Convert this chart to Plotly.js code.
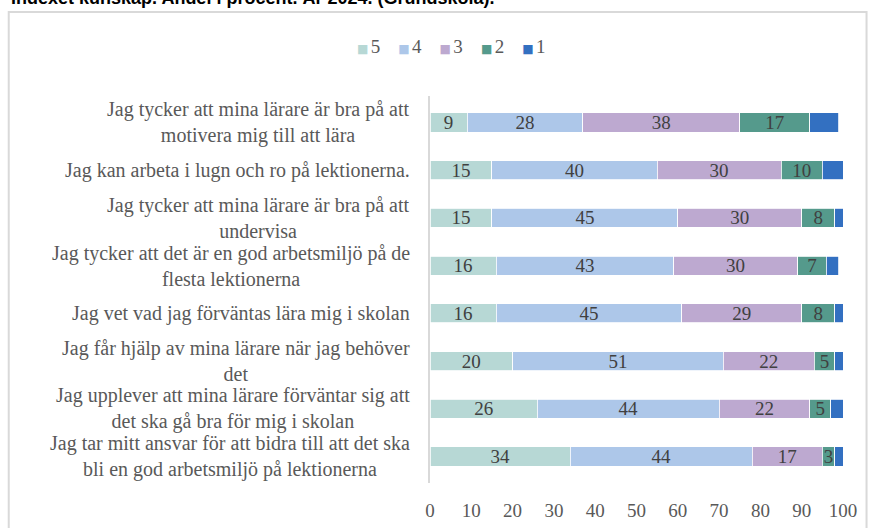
<!DOCTYPE html>
<html>
<head>
<meta charset="utf-8">
<script src="https://cdn.plot.ly/plotly-3.0.1.min.js"></script>
<style>
  html, body { margin: 0; padding: 0; background: #fff; }
  #plot { width: 874px; height: 528px; }
</style>
</head>
<body>
<div id="plot"></div>
<script>
// Påståenden, uppifrån och ned
var statements = [
  "Jag tycker att mina lärare är bra på att<br>motivera mig till att lära",
  "Jag kan arbeta i lugn och ro på lektionerna.",
  "Jag tycker att mina lärare är bra på att<br>undervisa",
  "Jag tycker att det är en god arbetsmiljö på de<br>flesta lektionerna",
  "Jag vet vad jag förväntas lära mig i skolan",
  "Jag får hjälp av mina lärare när jag behöver<br>det",
  "Jag upplever att mina lärare förväntar sig att<br>det ska gå bra för mig i skolan",
  "Jag tar mitt ansvar för att bidra till att det ska<br>bli en god arbetsmiljö på lektionerna"
];

var cats = ["s1", "s2", "s3", "s4", "s5", "s6", "s7", "s8"];

var svar5 = [9, 15, 15, 16, 16, 20, 26, 34];
var svar4 = [28, 40, 45, 43, 45, 51, 44, 44];
var svar3 = [38, 30, 30, 30, 29, 22, 22, 17];
var svar2 = [17, 10, 8, 7, 8, 5, 5, 3];
var svar1 = [7, 5, 2, 3, 2, 2, 3, 2];

var seriesNames = ["5", "4", "3", "2", "1"];
var seriesValues = [svar5, svar4, svar3, svar2, svar1];
var colors = ["#b7d8d5", "#adc7e9", "#bda9d0", "#559a8c", "#3370c1"];

var serif = "Liberation Serif";

var data = seriesValues.map(function (vals, i) {
  return {
    type: "bar",
    orientation: "h",
    name: seriesNames[i],
    y: cats,
    x: vals,
    text: seriesNames[i] === "1" ? vals.map(function () { return ""; }) : vals.map(String),
    textposition: "inside",
    insidetextanchor: "middle",
    textangle: 0,
    constraintext: "none",
    textfont: { family: serif, size: 19, color: "#404040" },
    marker: { color: colors[i], line: { color: "#ffffff", width: 0.8 } },
    hoverinfo: "skip",
    showlegend: false
  };
});

// etiketter till vänster, centrerade rader
var labels = statements.map(function (s, i) {
  return {
    xref: "paper", yref: "y",
    x: -0.043, y: cats[i],
    xanchor: "right", yanchor: "middle",
    align: "center",
    text: s,
    showarrow: false,
    font: { family: serif, size: 20, color: "#595959" }
  };
});

// förklaring
var legendText = seriesNames.map(function (n, i) {
  return "<span style='color:" + colors[i] + ";font-size:12px;font-family:DejaVu Sans'>■\u2009</span>" + n;
}).join("\u00a0\u00a0\u00a0\u2009");

labels.push({
  xref: "paper", yref: "paper",
  x: 0.05, y: 1.127,
  xanchor: "center", yanchor: "middle",
  text: legendText,
  showarrow: false,
  font: { family: serif, size: 19, color: "#595959" }
});

labels.push({
  xref: "paper", yref: "paper",
  x: -1.02, y: 1.222,
  xanchor: "left", yanchor: "bottom",
  text: "<b>Indexet kunskap. Andel i procent. År 2024. (Grundskola).</b>",
  showarrow: false,
  font: { family: "Liberation Sans", size: 18, color: "#000000" }
});

var layout = {
  width: 874,
  height: 528,
  margin: { l: 430, r: 31, t: 96, b: 45 },
  paper_bgcolor: "#ffffff",
  plot_bgcolor: "#ffffff",
  barmode: "stack",
  bargap: 0.6,
  showlegend: false,
  xaxis: {
    range: [0, 100],
    tickvals: [0, 10, 20, 30, 40, 50, 60, 70, 80, 90, 100],
    showgrid: false,
    zeroline: false,
    showline: false,
    ticks: "",
    ticklabelstandoff: 14,
    tickfont: { family: serif, size: 19, color: "#595959" },
    fixedrange: true
  },
  yaxis: {
    type: "category",
    autorange: "reversed",
    showticklabels: false,
    showgrid: false,
    zeroline: false,
    showline: true,
    linecolor: "#d9d9d9",
    linewidth: 2,
    ticks: "",
    fixedrange: true
  },
  annotations: labels,
  shapes: [{
    type: "rect",
    xref: "paper", yref: "paper",
    x0: -1.02, x1: 1.057, y0: -0.3, y1: 1.217,
    line: { color: "#d9d9d9", width: 2 },
    fillcolor: "rgba(0,0,0,0)",
    layer: "below"
  }]
};

Plotly.newPlot("plot", data, layout, { displayModeBar: false, staticPlot: true });
</script>
</body>
</html>
